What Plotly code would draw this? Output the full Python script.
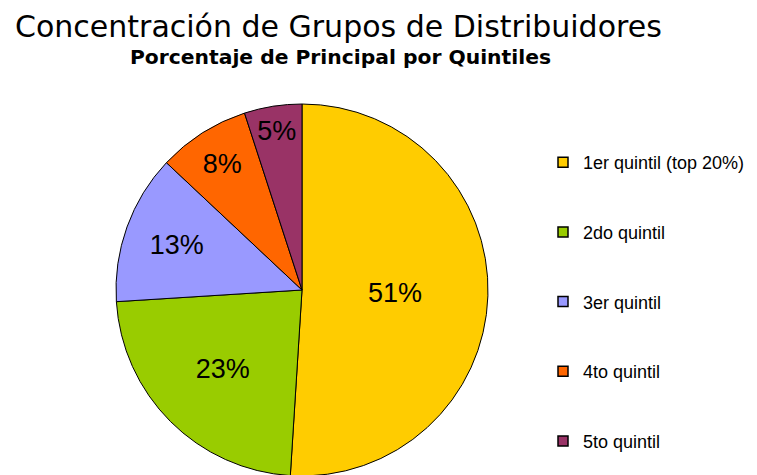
import plotly.graph_objects as go

labels = ["1er quintil (top 20%)", "2do quintil", "3er quintil", "4to quintil", "5to quintil"]
values = [51, 23, 13, 8, 5]
colors = ["#FFCC00", "#99CC00", "#9999FF", "#FF6600", "#993366"]

W, H = 757, 475

fig = go.Figure()
fig.add_trace(go.Pie(
    labels=labels, values=values, sort=False, direction="clockwise", rotation=0,
    marker=dict(colors=colors, line=dict(color="#000000", width=1)),
    texttemplate="%{percent:.0%}", textposition="inside",
    insidetextorientation="horizontal",
    textfont=dict(family="Liberation Sans, Arial", size=27, color="#000000"),
    showlegend=False, hoverinfo="label+percent",
    domain=dict(x=[108/W, 480/W], y=[7/H, 379/H]),
))
for lab, col in zip(labels, colors):
    fig.add_trace(go.Scatter(
        x=[None], y=[None], mode="markers", name=lab, legendgroup=lab,
        marker=dict(symbol="square", size=10, color=col, line=dict(color="#000000", width=1.5)),
    ))

fig.update_layout(
    width=W, height=H,
    margin=dict(l=0, r=0, t=0, b=0),
    paper_bgcolor="#FFFFFF", plot_bgcolor="#FFFFFF",
    xaxis=dict(visible=False), yaxis=dict(visible=False),
    legend=dict(x=535/W, y=1 - 136/H, xanchor="left", yanchor="top",
                font=dict(family="Liberation Sans, Arial", size=18, color="#000000"),
                tracegroupgap=43.3, bgcolor="rgba(0,0,0,0)"),
    annotations=[
        dict(text="Concentración de Grupos de Distribuidores", x=330/W, y=1 - 18/H,
             xref="paper", yref="paper", xanchor="center", yanchor="middle", showarrow=False,
             font=dict(family="DejaVu Sans", size=30, color="#000000")),
        dict(text="<b>Porcentaje de Principal por Quintiles</b>", x=332/W, y=1 - 49/H,
             xref="paper", yref="paper", xanchor="center", yanchor="middle", showarrow=False,
             font=dict(family="DejaVu Sans", size=20.3, color="#000000")),
    ],
)
fig.write_html("out.html")
